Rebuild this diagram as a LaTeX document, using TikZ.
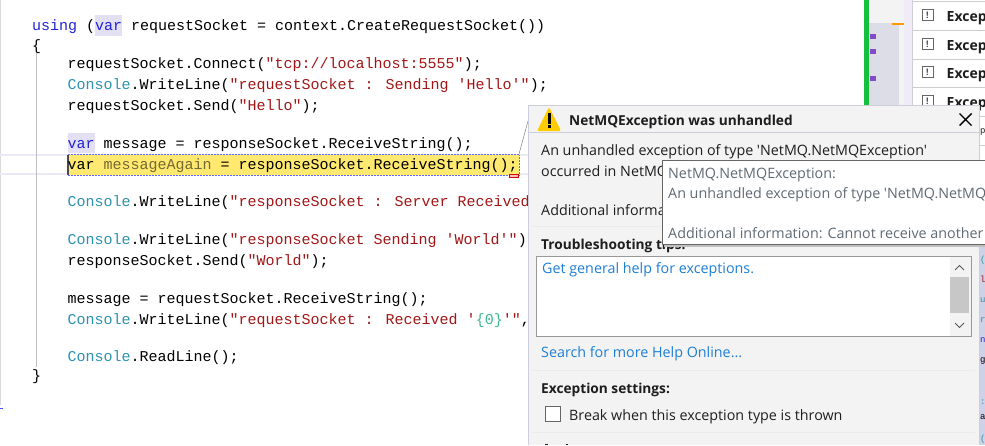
\documentclass[tikz,border=0pt]{standalone}
\usepackage{fontspec}
\setmainfont{Carlito}
\newfontfamily\cod{Liberation Mono}
\newfontfamily\ui{Open Sans}
\definecolor{kw}{HTML}{2222D8}
\definecolor{typ}{HTML}{2B91AF}
\definecolor{str}{HTML}{A31515}
\definecolor{cb}{HTML}{3CB98C}
\definecolor{hl}{HTML}{E4E0F4}
\definecolor{yel}{HTML}{FFE970}
\definecolor{panel}{HTML}{F3F3F3}
\definecolor{edgec}{HTML}{CCCEDB}
\definecolor{lnk}{HTML}{1E7FD6}
\definecolor{grn}{HTML}{14C03C}
\definecolor{tip}{HTML}{606A74}
\definecolor{dtxt}{HTML}{1E1E1E}
\definecolor{ovw}{HTML}{DDDDE7}
\definecolor{strip}{HTML}{CFD2E6}
\definecolor{warn}{HTML}{FFCC00}
\tikzset{
 code/.style={anchor=base west,inner sep=0,font=\cod\fontsize{15}{16}\selectfont,text=black},
 uit/.style={anchor=base west,inner sep=0,font=\ui\fontsize{14.3}{16}\selectfont,text=dtxt},
 uib/.style={uit,font=\ui\bfseries\fontsize{13.7}{16}\selectfont},
 tipt/.style={uit,text=tip},
 linkt/.style={uit,text=lnk},
 side/.style={anchor=base west,inner sep=0,font=\ui\bfseries\fontsize{14}{16}\selectfont,text=dtxt},
 sideicon/.style={draw=black!60,line width=1pt,fill=white,minimum size=11pt,inner sep=0,font=\ui\bfseries\fontsize{9}{10}\selectfont,text=black!70},
 frag/.style={anchor=base west,inner sep=0,font=\cod\fontsize{9}{10}\selectfont},
}
\newcommand{\K}[1]{\textcolor{kw}{#1}}
\newcommand{\T}[1]{\textcolor{typ}{#1}}
\newcommand{\Q}[1]{\textcolor{str}{#1}}
\begin{document}
\begin{tikzpicture}[x=1pt,y=-1pt]
\useasboundingbox (0,0) rectangle (985,445);
\clip (0,0) rectangle (985,445);
% editor decorations
\fill[black!15] (0,0) rectangle (1,405);
\fill[hl] (95,15) rectangle (122,36);
\fill[hl] (67.5,133) rectangle (95,153);
\fill[hl!70] (0,154) rectangle (530,156);
\fill[hl!70] (0,173) rectangle (530,175);
\draw[black!25,line width=1pt] (36,53) -- (36,367);
\fill[yel] (67,154.5) rectangle (519,175);
\draw[blue!60,densely dotted,line width=.5pt] (67,154.5) rectangle (519,175);
\fill[black!70] (67,154.5) rectangle (68.5,175);
\draw[red!85!black,line width=1pt,fill=red!25] (509,174.5) rectangle (518,177);
\draw[blue!70,line width=1pt] (0,408) -- (3,408);
% code
\node[code] (l1) at (32,30) {\K{using} (\K{var} requestSocket = context.CreateRequestSocket())};
\node[code] (l2) at (32,50) {\textcolor{black}{\{}};
\node[code] (l3) at (67.5,68) {requestSocket.Connect(\Q{"tcp://localhost:5555"});};
\node[code] (l4) at (67.5,89) {\T{Console}.WriteLine(\Q{"requestSocket : Sending 'Hello'"});};
\node[code] (l5) at (67.5,110) {requestSocket.Send(\Q{"Hello"});};
\node[code] (l6) at (67.5,148) {\K{var} message = responseSocket.ReceiveString();};
\node[code] (l7) at (67.5,169) {var \textcolor{black!55!yel}{messageAgain} = responseSocket.ReceiveString();};
\node[code] (l8) at (67.5,206) {\T{Console}.WriteLine(\Q{"responseSocket : Server Received}};
\node[code] (l9) at (67.5,244) {\T{Console}.WriteLine(\Q{"responseSocket Sending 'World'"})};
\node[code] (l10) at (67.5,265) {responseSocket.Send(\Q{"World"});};
\node[code] (l11) at (67.5,303) {message = requestSocket.ReceiveString();};
\node[code] (l12) at (67.5,324) {\T{Console}.WriteLine(\Q{"requestSocket : Received '}\textcolor{cb}{\{0\}}\Q{'"},};
\node[code] (l13) at (67.5,361) {\T{Console}.ReadLine();};
\node[code] (l14) at (32,380) {\}};
% right side margin
\fill[panel] (870,0) rectangle (905,105);
\fill[ovw] (869,23) rectangle (899,105);
\fill[grn] (864,0) rectangle (869,105);
\fill[orange!80!yellow] (892,22.5) rectangle (904,25);
\foreach \yy in {36,51,78.5} \fill[violet!60!blue!70] (870,\yy-2.5) rectangle (875.5,\yy+2.5);
\fill[hl!60] (904,0) rectangle (912,105);
\draw[edgec] (912.5,0) -- (912.5,105);
\foreach \yy in {1.5,30,59,87,116,145}{\draw[black!20] (913,\yy) -- (985,\yy);}
\foreach \yy/\nn in {15/a,44/b,72/c,101/d}{
 \node[sideicon] (ic\nn) at (927.5,\yy) {!};
 \node[side] (ex\nn) at (946.5,\yy+6) {Excep};
}
\node[frag,text=dtxt] (rp) at (980,133) {p};
% strip right of dialog, under the tooltip
\fill[strip] (980,245) rectangle (985,445);
\foreach \yy/\ss/\cc in {262/(/typ,282/l/str,302/u/typ,322/r/typ,342/n/kw,362/g/black,404/:/typ,419/a/black,441/(/typ}{
 \node[frag,text=\cc] at (980,\yy) {\ss};
}
% dialog
\coordinate (callA) at (519,154);
\coordinate (callB) at (528,121);
\draw[black!60] (callA) -- (callB);
\fill[panel] (528,105) rectangle (979,445);
\draw[edgec] (528.5,445) -- (528.5,105.5) -- (979.5,105.5) -- (979.5,445);
\draw[edgec] (529,132.5) -- (979,132.5);
\draw[black!8] (531,226) -- (975,226);
\draw[black!8] (531,370) -- (975,370);
\draw[black!8] (531,432) -- (975,432);
\fill[dtxt] (545,444) rectangle (548,445);
\fill[dtxt] (566,444) rectangle (568,445);
% warning icon
\fill[warn,rounded corners=1.5pt] (537,131) -- (549,107) -- (561,131) -- cycle;
\fill[black] (548,112.5) rectangle (550.5,123.5);
\fill[black] (548,125) rectangle (550.5,128);
\node[uib] (title) at (569,125) {NetMQException was unhandled};
\draw[black,line width=1.4pt] (959.5,113.5) -- (971.5,125.5) (959.5,125.5) -- (971.5,113.5);
\node[uit] (d1) at (541,155) {An unhandled exception of type 'NetMQ.NetMQException'};
\node[uit] (d2) at (541,176) {occurred in NetMQ};
\node[uit] (d3) at (541,215) {Additional informa};
\node[uib] (tt) at (541,249) {Troubleshooting tips:};
% help box
\draw[black!40,fill=white] (536.5,256.5) rectangle (971.5,336.5);
\fill[panel] (950,257) rectangle (971,336);
\fill[black!22] (950,277) rectangle (969,313);
\draw[black!65,line width=1pt] (955,270) -- (959.5,265.5) -- (964,270);
\draw[black!65,line width=1pt] (955,323) -- (959.5,327.5) -- (964,323);
\node[linkt] (g1) at (542,273) {Get general help for exceptions.};
\node[linkt] (g2) at (541,357) {Search for more Help Online...};
\node[uib] (es) at (541,393) {Exception settings:};
\draw[black!60,fill=white,line width=.7pt] (545.5,406.5) rectangle (560.5,421.5);
\node[uit] (bk) at (569,420) {Break when this exception type is thrown};
% tooltip
\fill[black!25] (664,163) rectangle (985,247);
\fill[white] (663,161) rectangle (985,244);
\draw[black!60] (985,160.5) -- (662.5,160.5) -- (662.5,244.5) -- (985,244.5);
\node[tipt] (t1) at (668,178) {NetMQ.NetMQException:};
\node[tipt] (t2) at (668,198) {An unhandled exception of type 'NetMQ.NetMQ};
\node[tipt] (t3) at (668,238) {Additional information: Cannot receive another};
\end{tikzpicture}
\end{document}
